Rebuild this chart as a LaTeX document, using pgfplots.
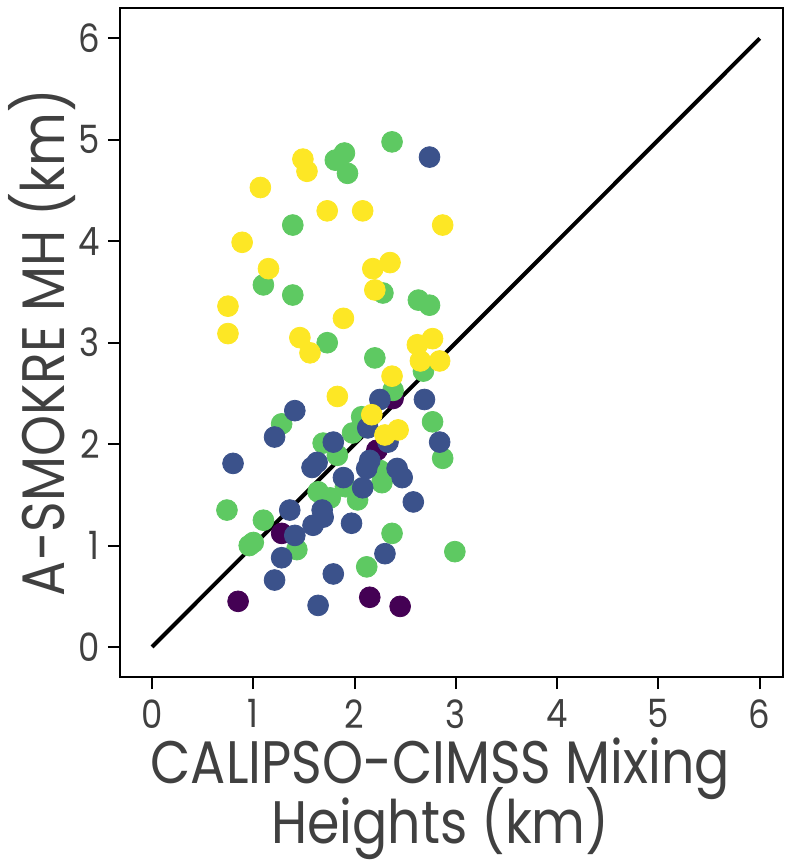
\documentclass[border=0pt]{standalone}
\usepackage{fontspec}
\setmainfont{Poppins}[FakeStretch=0.87]
\usepackage{pgfplots}
\pgfplotsset{compat=1.18}
\definecolor{vpurple}{HTML}{440154}
\definecolor{vblue}{HTML}{3B528B}
\definecolor{vgreen}{HTML}{5EC962}
\definecolor{vyellow}{HTML}{FDE725}
\definecolor{txt}{HTML}{404040}
\begin{document}
\begin{tikzpicture}
\begin{axis}[
  scale only axis,
  width=331.5pt, height=334.5pt,
  xmin=-0.316, xmax=6.23, ymin=-0.296, ymax=6.30,
  xtick={0,1,2,3,4,5,6}, ytick={0,1,2,3,4,5,6},
  axis line style={black, line width=1.1pt},
  tick align=outside, tick style={black, line width=1pt},
  major tick length=6pt,
  xtick pos=bottom, ytick pos=left,
  /pgf/number format/assume math mode=true,
  tick label style={font=\fontsize{19.5}{19.5}\selectfont, text=txt},
  xticklabel style={inner sep=0pt, yshift=-5pt},
  yticklabel style={inner sep=0pt, xshift=-4pt},
  xlabel={CALIPSO-CIMSS Mixing\\[-7pt]Heights (km)},
  ylabel={A-SMOKRE MH (km)},
  label style={font=\fontsize{30}{28}\selectfont, text=txt},
  xlabel style={at={(axis description cs:0.483,0)}, anchor=north, inner sep=0pt, yshift=-30pt, align=center},
  ylabel style={at={(axis description cs:-0.1176,0.5)}, anchor=center, inner sep=0pt},
  clip=false,
]
\addplot[only marks, mark=*, mark size=5.2pt, color=vpurple] coordinates {
(2.38,2.45) (2.22,1.94) (1.28,1.12) (0.85,0.45) (2.15,0.49) (2.45,0.40)
};
\addplot[only marks, mark=*, mark size=5.2pt, color=vgreen] coordinates {
(2.37,4.98) (1.90,4.87) (1.81,4.80) (1.93,4.67) (1.39,4.16) (1.10,3.57)
(1.39,3.47) (2.28,3.49) (2.63,3.42) (2.74,3.37) (1.73,3.00) (2.20,2.85)
(2.68,2.72) (2.38,2.53) (2.77,2.22) (2.87,1.86) (1.28,2.20) (2.07,2.27)
(1.98,2.11) (1.69,2.01) (1.83,1.89) (2.25,1.74) (2.27,1.62) (1.91,1.58)
(2.03,1.45) (1.64,1.53) (1.76,1.47) (0.74,1.35) (1.10,1.25) (1.00,1.03)
(0.96,1.00) (1.43,0.96) (2.37,1.12) (2.99,0.94) (2.12,0.79)
};
\addplot[only marks, mark=*, mark size=5.2pt, color=vblue] coordinates {
(2.74,4.83) (1.41,2.33) (1.21,2.07) (0.80,1.81) (2.25,2.44) (2.69,2.44)
(2.84,2.02) (2.13,2.16) (2.33,2.02) (1.79,2.02) (1.58,1.77) (1.63,1.82)
(2.15,1.84) (2.12,1.76) (2.42,1.76) (2.47,1.67) (1.89,1.67) (2.08,1.57)
(2.58,1.43) (1.36,1.35) (1.68,1.35) (1.69,1.28) (1.59,1.20) (1.97,1.22)
(1.41,1.10) (2.30,0.92) (1.28,0.88) (1.21,0.66) (1.79,0.72) (1.64,0.41)
};
\addplot[only marks, mark=*, mark size=5.2pt, color=vyellow] coordinates {
(1.07,4.53) (1.49,4.81) (1.53,4.69) (0.89,3.99) (1.15,3.73) (1.73,4.30)
(2.08,4.30) (2.87,4.16) (2.35,3.79) (2.18,3.73) (2.20,3.52) (0.75,3.36)
(0.75,3.09) (1.46,3.05) (1.56,2.90) (1.89,3.24) (2.62,2.98) (2.77,3.04)
(2.65,2.82) (2.84,2.82) (2.37,2.67) (1.83,2.47) (2.17,2.29) (2.30,2.09)
(2.43,2.14)
};
\addplot[black, line width=2pt] coordinates {(0,0) (6,6)};
\end{axis}
\pgfresetboundingbox
\path[use as bounding box] (current axis.south west) ++(-60pt,-95pt) rectangle ++(392pt,433.5pt);
\end{tikzpicture}
\end{document}
